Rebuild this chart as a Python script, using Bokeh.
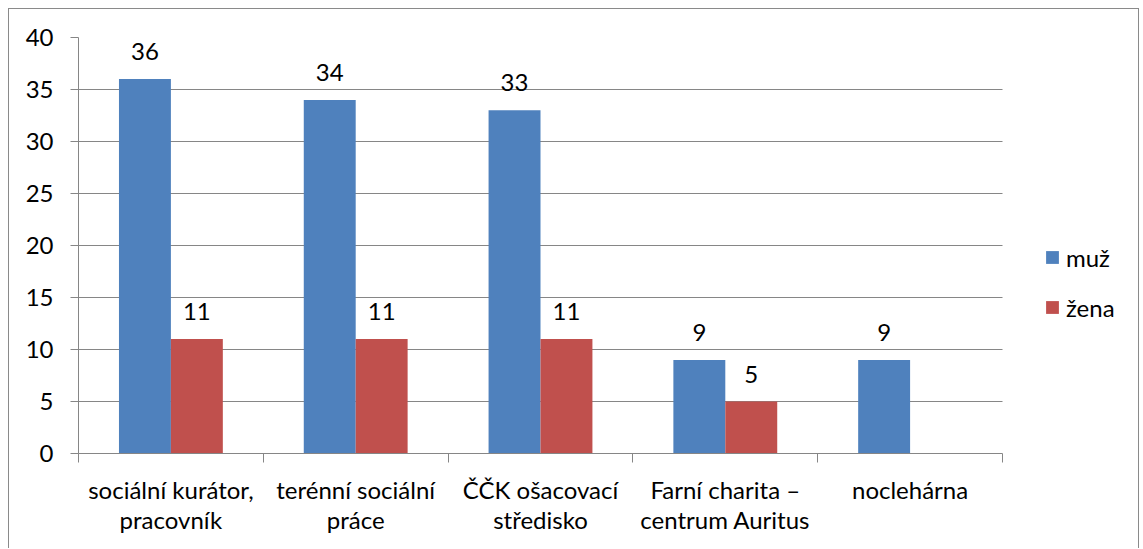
from bokeh.plotting import figure
from bokeh.models import (ColumnDataSource, Range1d, FixedTicker, LabelSet,
                          Legend, LegendItem)
from bokeh.core.properties import value
from bokeh.transform import dodge
from bokeh.embed import file_html
from bokeh.resources import INLINE

# ---- data ----
categories = ["sociální kurátor,\npracovník", "terénní sociální\npráce",
              "ČČK ošacovací\nstředisko", "Farní charita –\ncentrum Auritus",
              "noclehárna"]
muz = [36, 34, 33, 9, 9]
zena = [11, 11, 11, 5, 0]
series_names = ["muž", "žena"]
y_ticks = [0, 5, 10, 15, 20, 25, 30, 35, 40]

colors = ["#4F81BD", "#C0504D"]
grid_col = "#868686"
FONT = "Lato"
FS = "24px"

n = len(categories)
centers = [i + 0.5 for i in range(n)]
bounds = [float(i) for i in range(n + 1)]

W, H = 1131, 540
ML, MR, MT, MB = 69, 4, 28, 96
plot_px = 924                      # width of the category area in px
frame_px = W - ML - MR
x_end = n * frame_px / plot_px     # extra room on the right for the legend

p = figure(width=W, height=H, x_range=Range1d(0, x_end), y_range=Range1d(0, 40),
           output_backend="svg", toolbar_location=None,
           min_border_left=ML, min_border_right=MR, min_border_top=MT,
           min_border_bottom=MB)
p.styles = {"margin-left": "8px", "margin-top": "8px",
            "border-left": "1px solid #8a8a8a",
            "border-top": "1px solid #8a8a8a",
            "border-right": "1px solid #8a8a8a"}
p.outline_line_color = None
p.background_fill_color = "white"
p.border_fill_color = "white"

# horizontal gridlines limited to the category area
p.xgrid.grid_line_color = None
g = p.ygrid[0]
if "cross_bounds" in g.properties():
    g.ticker = FixedTicker(ticks=y_ticks)
    g.grid_line_color = grid_col
    g.cross_bounds = (0, n)
else:
    g.grid_line_color = None
    p.segment(x0=[0] * len(y_ticks), x1=[n] * len(y_ticks), y0=y_ticks, y1=y_ticks,
              line_color=grid_col, line_width=1)

src = ColumnDataSource(dict(x=centers, muz=muz, zena=zena))
off = 0.1405
bw = 0.281
r1 = p.vbar(x=dodge("x", -off, range=p.x_range), top="muz", width=bw, source=src,
            fill_color=colors[0], line_color=None)
r2 = p.vbar(x=dodge("x", off, range=p.x_range), top="zena", width=bw, source=src,
            fill_color=colors[1], line_color=None)

# data labels (only for non-zero values)
for vals, sign in ((muz, -1), (zena, 1)):
    xs = [c for c, v in zip(centers, vals) if v > 0]
    ys = [v for v in vals if v > 0]
    ls = ColumnDataSource(dict(x=xs, y=ys, t=[str(v) for v in ys]))
    lab = LabelSet(x=dodge("x", sign * off, range=p.x_range), y="y", text="t",
                   source=ls, text_align="center", text_baseline="alphabetic",
                   y_offset=19, text_font=value(FONT), text_font_size=value(FS),
                   text_color="black")
    p.add_layout(lab)

# axes
p.yaxis.ticker = FixedTicker(ticks=y_ticks)
p.yaxis.axis_line_color = grid_col
p.yaxis.major_tick_line_color = grid_col
p.yaxis.major_tick_out = 8
p.yaxis.major_tick_in = 0
p.yaxis.minor_tick_line_color = None
p.yaxis.major_label_text_font = FONT
p.yaxis.major_label_text_font_size = FS
p.yaxis.major_label_text_color = "black"
p.yaxis.major_label_standoff = 17

p.xaxis.ticker = FixedTicker(ticks=centers, minor_ticks=bounds)
p.xaxis.bounds = (0, n)
p.xaxis.major_label_overrides = {c: lab for c, lab in zip(centers, categories)}
p.xaxis.axis_line_color = grid_col
p.xaxis.major_tick_line_color = None
p.xaxis.minor_tick_line_color = grid_col
p.xaxis.minor_tick_out = 9
p.xaxis.minor_tick_in = 0
p.xaxis.major_label_text_font = FONT
p.xaxis.major_label_text_font_size = FS
p.xaxis.major_label_text_color = "black"
p.xaxis.major_label_text_line_height = 1.04
p.xaxis.major_label_standoff = 12

legend = Legend(items=[LegendItem(label=series_names[0], renderers=[r1]),
                       LegendItem(label=series_names[1], renderers=[r2])],
                location=(966, 131), orientation="vertical",
                padding=0, margin=0, border_line_color=None,
                background_fill_alpha=0, glyph_width=16, glyph_height=16,
                label_standoff=6, spacing=20, label_height=30,
                label_text_font=FONT, label_text_font_size=FS,
                label_text_color="black")
p.add_layout(legend)

open("out.html", "w").write(file_html(p, INLINE))
